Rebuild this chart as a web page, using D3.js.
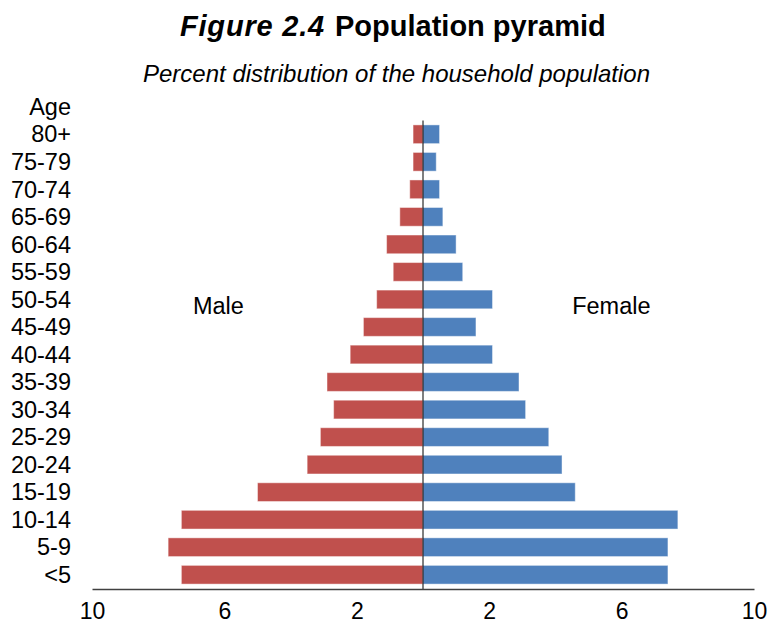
<!DOCTYPE html>
<html>
<head>
<meta charset="utf-8">
<script src="https://cdn.jsdelivr.net/npm/d3@7"></script>
<style>
  body { margin: 0; background: #fff; }
  svg { display: block; font-family: "Liberation Sans", Arial, sans-serif; }
</style>
</head>
<body>
<svg id="chart" width="770" height="625"></svg>
<script>
const ageGroups = ["80+", "75-79", "70-74", "65-69", "60-64", "55-59", "50-54", "45-49",
  "40-44", "35-39", "30-34", "25-29", "20-24", "15-19", "10-14", "5-9", "<5"];
const maleValues = [0.3, 0.3, 0.4, 0.7, 1.1, 0.9, 1.4, 1.8, 2.2, 2.9, 2.7, 3.1, 3.5, 5.0, 7.3, 7.7, 7.3];
const femaleValues = [0.5, 0.4, 0.5, 0.6, 1.0, 1.2, 2.1, 1.6, 2.1, 2.9, 3.1, 3.8, 4.2, 4.6, 7.7, 7.4, 7.4];
const tickValues = [-10, -6, -2, 2, 6, 10];

const svg = d3.select("#chart");

const x = d3.scaleLinear().domain([-10, 10]).range([92, 754]);
const y = d3.scaleBand().domain(ageGroups).range([120.5, 588.5]).paddingInner(0.32).paddingOuter(0.16);

const maleColor = "#C0504D";
const femaleColor = "#4F81BD";

// Title
const title = svg.append("text")
  .attr("x", 180).attr("y", 36)
  .attr("text-anchor", "start")
  .attr("font-size", 29).attr("font-weight", "bold").attr("fill", "#000");
title.append("tspan").attr("font-style", "italic").attr("letter-spacing", 0.8).text("Figure 2.4");
title.append("tspan").attr("dx", 10).text("Population pyramid");

svg.append("text")
  .attr("x", 143).attr("y", 81.5)
  .attr("text-anchor", "start")
  .attr("font-size", 24).attr("font-style", "italic").attr("fill", "#000")
  .text("Percent distribution of the household population");

// Bars
svg.append("g").selectAll("rect").data(ageGroups).join("rect")
  .attr("x", (d, i) => x(-maleValues[i]))
  .attr("y", d => y(d))
  .attr("width", (d, i) => x(0) - x(-maleValues[i]))
  .attr("height", y.bandwidth())
  .attr("fill", maleColor)
  .attr("stroke", "#fff").attr("stroke-opacity", 0.45).attr("stroke-width", 1);

svg.append("g").selectAll("rect").data(ageGroups).join("rect")
  .attr("x", x(0))
  .attr("y", d => y(d))
  .attr("width", (d, i) => x(femaleValues[i]) - x(0))
  .attr("height", y.bandwidth())
  .attr("fill", femaleColor)
  .attr("stroke", "#fff").attr("stroke-opacity", 0.45).attr("stroke-width", 1);

// Center line
svg.append("line")
  .attr("x1", x(0)).attr("x2", x(0))
  .attr("y1", 120.5).attr("y2", 589)
  .attr("stroke", "#000").attr("stroke-width", 1);

// X axis
const xAxis = d3.axisBottom(x)
  .tickValues(tickValues)
  .tickFormat(d => Math.abs(d))
  .tickSizeInner(0).tickSizeOuter(0).tickPadding(14);
const gx = svg.append("g").attr("transform", "translate(0,589)").call(xAxis);
gx.select(".domain").attr("stroke", "#404040").attr("stroke-width", 1.3);
gx.selectAll("text").attr("font-size", 23).attr("fill", "#000")
  .attr("font-family", "'Liberation Sans', Arial, sans-serif");

// Y labels
svg.append("g").selectAll("text").data(ageGroups).join("text")
  .attr("x", 71)
  .attr("y", d => y(d) + y.bandwidth() / 2)
  .attr("dy", "0.35em")
  .attr("text-anchor", "end")
  .attr("font-size", 23.5).attr("fill", "#000")
  .text(d => d);

svg.append("text")
  .attr("x", 71).attr("y", 115)
  .attr("text-anchor", "end")
  .attr("font-size", 23.5).attr("fill", "#000")
  .text("Age");

// Male / Female labels
const labelY = y("50-54") + y.bandwidth() / 2 + 14.5;
svg.append("text")
  .attr("x", x(-6.18)).attr("y", labelY)
  .attr("text-anchor", "middle").attr("font-size", 23.5).attr("fill", "#000")
  .text("Male");
svg.append("text")
  .attr("x", x(5.69)).attr("y", labelY)
  .attr("text-anchor", "middle").attr("font-size", 23.5).attr("fill", "#000")
  .text("Female");
</script>
</body>
</html>
